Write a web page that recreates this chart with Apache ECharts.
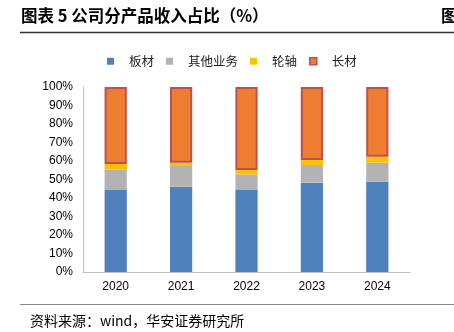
<!DOCTYPE html>
<html><head><meta charset="utf-8">
<script src="https://cdn.jsdelivr.net/npm/echarts@6/dist/echarts.min.js"></script>
<style>html,body{margin:0;padding:0;background:#fff}#c{width:454px;height:332px}</style>
</head><body><div id="c"></div>
<script>
var categories = ['2020','2021','2022','2023','2024'];
var plate = [44.3, 46.1, 44.3, 48.3, 48.8];
var other = [11.2, 11.2, 8.5, 9.5, 10.3];
var wheel = [2.9, 1.8, 2.3, 2.7, 3.2];
var longProd = [41.6, 40.9, 44.9, 39.5, 37.7];
var yTicks = ['0%','10%','20%','30%','40%','50%','60%','70%','80%','90%','100%'];

var chart = echarts.init(document.getElementById('c'), null, {renderer:'canvas'});
var font = '"Liberation Sans", Arial, sans-serif';
var cjk = '"Noto Sans CJK SC", sans-serif';
chart.setOption({
  animation:false,
  backgroundColor:'#fff',
  graphic:[
    {type:'text', left:21, top:7, style:{text:'图表 5 公司分产品收入占比（%）', font:'bold 16.5px '+cjk, fill:'#000'}},
    {type:'text', left:441, top:7, style:{text:'图', font:'bold 16.5px '+cjk, fill:'#000'}},
    {type:'line', shape:{x1:20,y1:32.5,x2:454,y2:32.5}, style:{stroke:'#333', lineWidth:1.5}},
    {type:'line', shape:{x1:20,y1:304.5,x2:454,y2:304.5}, style:{stroke:'#888', lineWidth:1}},
    {type:'text', left:30, top:314, style:{text:'资料来源：wind，华安证券研究所', font:'14px '+cjk, fill:'#000'}}
  ],
  legend:{
    top:50, left:102, itemWidth:7, itemHeight:7, itemGap:12, icon:'rect',
    textStyle:{fontFamily:cjk, fontSize:12.5, color:'#222', padding:[0,0,0,10]},
    data:['板材','其他业务','轮轴',{name:'长材', itemStyle:{color:'#ED7D31', borderColor:'#C0504D', borderWidth:1.5}}]
  },
  grid:{left:83, right:44, top:87, bottom:60},
  xAxis:{type:'category', data:categories,
    axisLine:{lineStyle:{color:'#BFBFBF'}}, axisTick:{show:false},
    axisLabel:{fontFamily:font, fontSize:12, color:'#000', margin:9}},
  yAxis:{type:'value', min:0, max:100, interval:10,
    axisLine:{show:true, lineStyle:{color:'#BFBFBF'}}, axisTick:{show:false}, splitLine:{show:false},
    axisLabel:{fontFamily:font, fontSize:12, color:'#000', margin:10,
      formatter:function(v){return yTicks[Math.round(v/10)];}}},
  series:[
    {name:'板材', type:'bar', stack:'a', data:plate, barWidth:'34%', itemStyle:{color:'#4F81BD'}},
    {name:'其他业务', type:'bar', stack:'a', data:other, itemStyle:{color:'#B3B3B3'}},
    {name:'轮轴', type:'bar', stack:'a', data:wheel, itemStyle:{color:'#FFC000'}},
    {name:'长材', type:'bar', stack:'a', data:longProd, itemStyle:{color:'#ED7D31', borderColor:'#C0504D', borderWidth:2}}
  ]
});
</script></body></html>
